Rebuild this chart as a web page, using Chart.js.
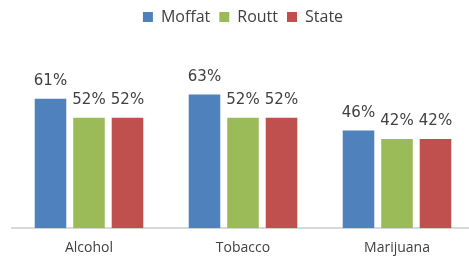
<!DOCTYPE html>
<html>
<head>
<meta charset="utf-8">
<script src="https://cdn.jsdelivr.net/npm/chart.js@4/dist/chart.umd.min.js"></script>
<style>
html,body{margin:0;padding:0;background:#fff;overflow:hidden;}
#wrap{width:476px;height:256px;}
</style>
</head>
<body>
<div id="wrap"><canvas id="c" width="476" height="256"></canvas></div>
<script>
const categories = ["Alcohol", "Tobacco", "Marijuana"];
const seriesNames = ["Moffat", "Routt", "State"];
const moffat = [61, 63, 46];
const routt = [52, 52, 42];
const state = [52, 52, 42];
const colors = ["#4F81BD", "#9BBB59", "#C0504D"];

const labelPlugin = {
  id: "barLabels",
  afterDatasetsDraw(chart) {
    const ctx = chart.ctx;
    ctx.save();
    ctx.font = "15px 'DejaVu Sans'";
    ctx.fillStyle = "#404040";
    ctx.textAlign = "center";
    ctx.textBaseline = "bottom";
    chart.data.datasets.forEach((ds, i) => {
      const meta = chart.getDatasetMeta(i);
      meta.data.forEach((bar, j) => {
        ctx.fillText(ds.data[j] + "%", bar.x, bar.y - 10);
      });
    });
    ctx.restore();
  }
};

new Chart(document.getElementById("c"), {
  type: "bar",
  data: {
    labels: categories,
    datasets: [
      { label: seriesNames[0], data: moffat, backgroundColor: colors[0] },
      { label: seriesNames[1], data: routt, backgroundColor: colors[1] },
      { label: seriesNames[2], data: state, backgroundColor: colors[2] }
    ]
  },
  options: {
    responsive: false,
    animation: false,
    events: [],
    layout: { padding: { left: 12, right: 2, top: 0, bottom: -11 } },
    datasets: { bar: { categoryPercentage: 0.75, barPercentage: 0.82 } },
    plugins: {
      legend: {
        position: "top",
        labels: {
          boxWidth: 10, boxHeight: 10, padding: 9,
          color: "#404040",
          font: { family: "'Open Sans'", size: 16 }
        }
      },
      tooltip: { enabled: false },
      title: { display: false }
    },
    scales: {
      x: {
        grid: { display: false, drawTicks: false },
        border: { display: true, color: "#D9D9D9", width: 2 },
        ticks: { color: "#404040", font: { family: "'Open Sans'", size: 14 }, padding: 11 }
      },
      y: {
        display: false,
        min: 0,
        max: 91
      }
    }
  },
  plugins: [labelPlugin]
});
</script>
</body>
</html>
